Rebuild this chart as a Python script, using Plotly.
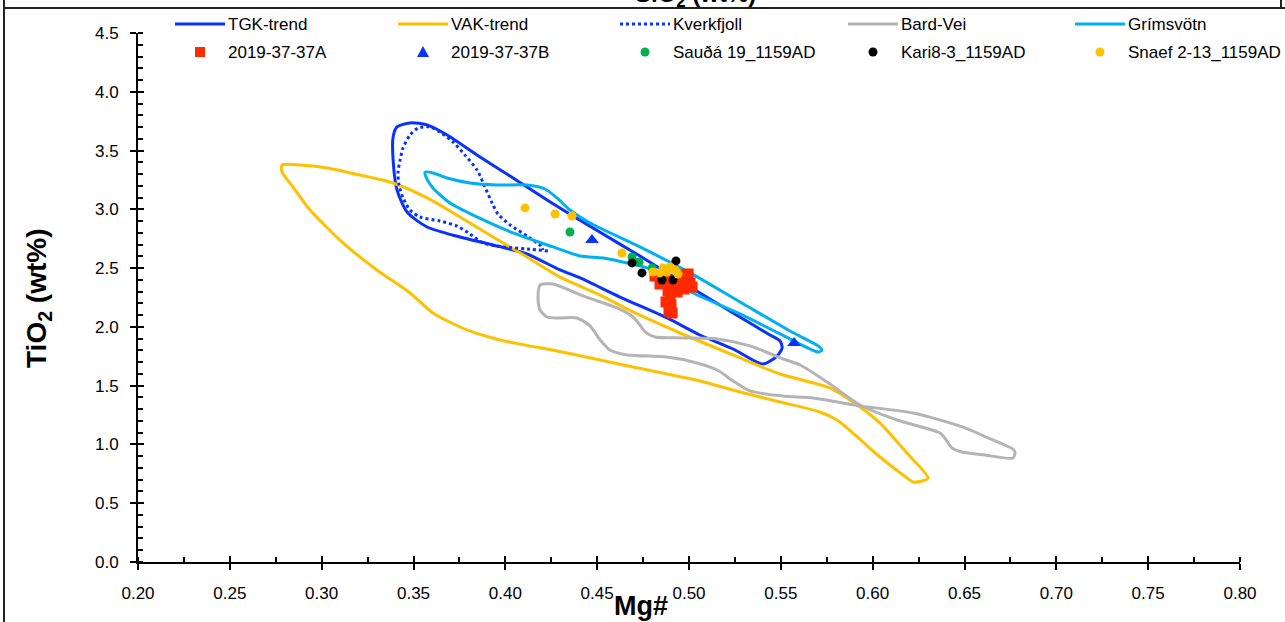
import plotly.graph_objects as go

# ---- trend envelopes (Mg#, TiO2) ----
tgk_x = [0.3389, 0.3410, 0.3481, 0.3574, 0.3683, 0.3862, 0.4042, 0.4227, 0.4477, 0.4733,
         0.5006, 0.5240, 0.5441, 0.5496, 0.5507, 0.5479, 0.5403, 0.5240, 0.5060, 0.4880,
         0.4624, 0.4407, 0.4298, 0.4118, 0.3933, 0.3753, 0.3574, 0.3465, 0.3410, 0.3389]
tgk_y = [3.615, 3.701, 3.735, 3.718, 3.632, 3.445, 3.267, 3.080, 2.841, 2.603,
         2.339, 2.118, 1.931, 1.880, 1.820, 1.752, 1.684, 1.812, 1.931, 2.076,
         2.254, 2.416, 2.484, 2.620, 2.697, 2.765, 2.850, 2.977, 3.165, 3.420]

vak_x = [0.2784, 0.2882, 0.3029, 0.3209, 0.3388, 0.3574, 0.3753, 0.3933, 0.4118, 0.4298,
         0.4516, 0.4695, 0.4951, 0.5240, 0.5496, 0.5768, 0.5931, 0.6040, 0.6187, 0.6302,
         0.6269, 0.6220, 0.6187, 0.6040, 0.5893, 0.5806, 0.5713, 0.5496, 0.5278, 0.5060,
         0.4695, 0.4336, 0.3971, 0.3791, 0.3606, 0.3481, 0.3301, 0.3116, 0.2937, 0.2844,
         0.2784]
vak_y = [3.377, 3.377, 3.352, 3.292, 3.224, 3.097, 2.935, 2.765, 2.595, 2.424,
         2.271, 2.127, 1.948, 1.761, 1.599, 1.480, 1.319, 1.182, 0.927, 0.715,
         0.689, 0.681, 0.715, 0.893, 1.097, 1.208, 1.276, 1.361, 1.446, 1.540,
         1.659, 1.778, 1.889, 1.974, 2.118, 2.288, 2.484, 2.714, 2.994, 3.190,
         3.318]

kverk_x = [0.4232, 0.4118, 0.3987, 0.3879, 0.3808, 0.3737, 0.3644, 0.3535, 0.3481, 0.3443,
           0.3421, 0.3416, 0.3427, 0.3443, 0.3481, 0.3525, 0.3590, 0.3644, 0.3715, 0.3780,
           0.3846, 0.3889, 0.3928, 0.3960, 0.4026, 0.4118, 0.4194, 0.4205]
kverk_y = [2.646, 2.663, 2.680, 2.714, 2.790, 2.858, 2.901, 2.935, 2.994, 3.097,
           3.207, 3.318, 3.420, 3.522, 3.632, 3.692, 3.701, 3.658, 3.573, 3.462,
           3.335, 3.190, 3.054, 2.960, 2.867, 2.773, 2.688, 2.654]

bard_x = [0.4189, 0.4260, 0.4423, 0.4608, 0.4695, 0.4733, 0.4761, 0.4815, 0.4968, 0.5153,
          0.5332, 0.5512, 0.5605, 0.5752, 0.5931, 0.6133, 0.6367, 0.6400, 0.6432, 0.6487,
          0.6612, 0.6764, 0.6775, 0.6764, 0.6655, 0.6492, 0.6220, 0.5931, 0.5675, 0.5512,
          0.5332, 0.5240, 0.5153, 0.5022, 0.4880, 0.4663, 0.4570, 0.4516, 0.4461, 0.4390,
          0.4298, 0.4227, 0.4189, 0.4178]
bard_y = [2.356, 2.365, 2.263, 2.161, 2.084, 2.016, 1.957, 1.914, 1.906, 1.897,
          1.838, 1.727, 1.676, 1.531, 1.336, 1.208, 1.097, 1.038, 0.970, 0.936,
          0.910, 0.885, 0.936, 0.961, 1.038, 1.148, 1.268, 1.327, 1.395, 1.412,
          1.455, 1.540, 1.633, 1.701, 1.744, 1.761, 1.803, 1.889, 2.008, 2.076,
          2.076, 2.084, 2.144, 2.254]

grim_x = [0.3563, 0.3606, 0.3683, 0.3808, 0.3955, 0.4118, 0.4216, 0.4281, 0.4352, 0.4461,
          0.4733, 0.5006, 0.5278, 0.5550, 0.5703, 0.5724, 0.5703, 0.5496, 0.5278, 0.5022,
          0.4788, 0.4663, 0.4532, 0.4407, 0.4260, 0.4042, 0.3846, 0.3699, 0.3606, 0.3568]
grim_y = [3.318, 3.309, 3.267, 3.224, 3.207, 3.207, 3.173, 3.097, 2.994, 2.884,
          2.680, 2.459, 2.212, 1.965, 1.838, 1.803, 1.786, 1.940, 2.110, 2.288,
          2.493, 2.544, 2.586, 2.603, 2.680, 2.799, 2.935, 3.054, 3.182, 3.275]

# ---- samples ----
s37a_x = [0.4815, 0.4842, 0.4886, 0.4929, 0.4973, 0.5006, 0.5017, 0.4973, 0.4935, 0.4886,
          0.4897, 0.4875, 0.4902, 0.4891, 0.4908, 0.4995, 0.4951]
s37a_y = [2.433, 2.365, 2.390, 2.373, 2.407, 2.373, 2.339, 2.322, 2.297, 2.305,
          2.254, 2.212, 2.186, 2.135, 2.118, 2.450, 2.441]

s37b_x = [0.4472, 0.5572]
s37b_y = [2.739, 1.863]

sauda_x = [0.4352, 0.4690, 0.4728, 0.4799]
sauda_y = [2.807, 2.595, 2.552, 2.501]

kari_x = [0.4690, 0.4744, 0.4929, 0.4853, 0.4913]
kari_y = [2.544, 2.459, 2.561, 2.399, 2.399]

snaef_x = [0.4107, 0.4271, 0.4363, 0.4635, 0.4804, 0.4859, 0.4897, 0.4924, 0.4880, 0.4842, 0.4940]
snaef_y = [3.012, 2.960, 2.943, 2.629, 2.467, 2.501, 2.510, 2.484, 2.467, 2.459, 2.450]

BLUE = "#0a32ff"
YELLOW = "#ffc000"
GREY = "#b4b4b4"
CYAN = "#00b0f0"
RED = "#ff2a00"
GREEN = "#00b050"

FONT = "Liberation Sans, Arial, sans-serif"


def ring(xs, ys, k):
    # close an envelope, starting on a straight stretch so the spline seam is hidden
    xs, ys = xs[k:] + xs[:k], ys[k:] + ys[:k]
    return xs + xs[:1], ys + ys[:1]


fig = go.Figure()

lines = [
    ("TGK-trend", *ring(tgk_x, tgk_y, 7), BLUE, "solid"),
    ("VAK-trend", *ring(vak_x, vak_y, 7), YELLOW, "solid"),
    ("Kverkfjoll", kverk_x, kverk_y, BLUE, "dot"),
    ("Bard-Vei", *ring(bard_x, bard_y, 9), GREY, "solid"),
    ("Grímsvötn", *ring(grim_x, grim_y, 11), CYAN, "solid"),
]
for name, xs, ys, col, dash in lines:
    fig.add_trace(go.Scatter(x=xs, y=ys, name=name, mode="lines",
                             line=dict(color=col, width=3, dash=dash, shape="spline", smoothing=0.7),
                             showlegend=False))

points = [
    ("2019-37-37A", s37a_x, s37a_y, RED, "square", 11),
    ("2019-37-37B", s37b_x, s37b_y, BLUE, "triangle-up", 12),
    ("Sauðá 19_1159AD", sauda_x, sauda_y, GREEN, "circle", 9),
    ("Kari8-3_1159AD", kari_x, kari_y, "black", "circle", 9),
    ("Snaef 2-13_1159AD", snaef_x, snaef_y, YELLOW, "circle", 9),
]
for name, xs, ys, col, sym, sz in points:
    fig.add_trace(go.Scatter(x=xs, y=ys, name=name, mode="markers",
                             marker=dict(color=col, symbol=sym, size=sz, line=dict(width=0)),
                             showlegend=False))

# dummy trace so the overlay axes (inner halves of major ticks) get drawn
fig.add_trace(go.Scatter(x=[None], y=[None], xaxis="x2", yaxis="y2", showlegend=False))

# plot area in pixels: x 138..1240, y 33..562
L, R, T, B = 138, 1240, 33, 562
W, H = 1285, 622


def px(p):
    return (p - L) / (R - L)


def py(p):
    return (B - p) / (B - T)


shapes = []
annotations = []

# hand-built legend (two rows, five columns)
cols = [175, 398, 620, 848, 1075]
for (name, xs, ys, col, dash), c in zip(lines, cols):
    shapes.append(dict(type="line", xref="paper", yref="paper",
                       x0=px(c), x1=px(c + 50), y0=py(24), y1=py(24),
                       line=dict(color=col, width=3, dash=dash)))
    annotations.append(dict(text=name, xref="paper", yref="paper", x=px(c + 51), y=py(24),
                            xanchor="left", yanchor="middle", showarrow=False,
                            font=dict(size=17, color="black", family=FONT)))
for (name, xs, ys, col, sym, sz), c in zip(points, cols):
    cx, cy = c + 25, 52
    if sym == "square":
        shapes.append(dict(type="rect", xref="paper", yref="paper", x0=px(cx - 5), x1=px(cx + 5),
                           y0=py(cy + 5), y1=py(cy - 5), fillcolor=col, line=dict(width=0)))
    elif sym == "triangle-up":
        shapes.append(dict(type="path", xref="paper", yref="paper",
                           path=f"M {px(cx - 6)} {py(cy + 5)} L {px(cx + 6)} {py(cy + 5)} L {px(cx)} {py(cy - 6)} Z",
                           fillcolor=col, line=dict(width=0)))
    else:
        shapes.append(dict(type="circle", xref="paper", yref="paper", x0=px(cx - 4.5), x1=px(cx + 4.5),
                           y0=py(cy + 4.5), y1=py(cy - 4.5), fillcolor=col, line=dict(width=0)))
    annotations.append(dict(text=name, xref="paper", yref="paper", x=px(c + 51), y=py(cy),
                            xanchor="left", yanchor="middle", showarrow=False,
                            font=dict(size=17, color="black", family=FONT)))

# page frame left over from the figure above
shapes.append(dict(type="line", xref="paper", yref="paper", x0=px(4), x1=px(W), y0=py(8), y1=py(8),
                   line=dict(color="#222", width=2)))
shapes.append(dict(type="line", xref="paper", yref="paper", x0=px(4), x1=px(4), y0=py(0), y1=py(W),
                   line=dict(color="#222", width=2)))
shapes.append(dict(type="line", xref="paper", yref="paper", x0=px(1281), x1=px(1281), y0=py(0), y1=py(8),
                   line=dict(color="#222", width=2)))

annotations.append(dict(text="<b>SiO<sub>2</sub> (wt%)</b>", xref="paper", yref="paper",
                        x=px(695), y=py(13), xanchor="center", yanchor="bottom", showarrow=False,
                        font=dict(size=24, color="black", family=FONT)))
annotations.append(dict(text="<b>Mg#</b>", xref="paper", yref="paper", x=px(641), y=py(606),
                        xanchor="center", yanchor="middle", showarrow=False,
                        font=dict(size=27, color="black", family=FONT)))
annotations.append(dict(text="<b>TiO<sub>2</sub> (wt%)</b>", xref="paper", yref="paper", x=px(38), y=py(298),
                        xanchor="center", yanchor="middle", showarrow=False, textangle=-90,
                        font=dict(size=28, color="black", family=FONT)))

fig.update_layout(
    width=W, height=H,
    margin=dict(l=L, r=W - R, t=T, b=H - B),
    plot_bgcolor="white", paper_bgcolor="white",
    showlegend=False,
    font=dict(family=FONT, color="black"),
    xaxis=dict(range=[0.2, 0.8], dtick=0.05, tick0=0.2, tickformat=".2f",
               showgrid=False, zeroline=False, showline=True, linecolor="black", linewidth=2,
               ticks="outside", ticklen=6, tickwidth=2, tickcolor="black",
               tickfont=dict(size=17, color="black"), ticklabelstandoff=9,
               minor=dict(dtick=0.025, ticks="inside", ticklen=5, tickwidth=1.5, tickcolor="black")),
    yaxis=dict(range=[0, 4.5], dtick=0.5, tick0=0, tickformat=".1f",
               showgrid=False, zeroline=False, showline=True, linecolor="black", linewidth=2,
               ticks="outside", ticklen=6, tickwidth=2, tickcolor="black",
               tickfont=dict(size=17, color="black"), ticklabelstandoff=8,
               minor=dict(dtick=0.1, ticks="inside", ticklen=5, tickwidth=1.5, tickcolor="black")),
    xaxis2=dict(overlaying="x", anchor="y", range=[0.2, 0.8], dtick=0.05, tick0=0.2,
                showgrid=False, zeroline=False, showline=False, showticklabels=False,
                ticks="inside", ticklen=6, tickwidth=2, tickcolor="black"),
    yaxis2=dict(overlaying="y", anchor="x", range=[0, 4.5], dtick=0.5, tick0=0,
                showgrid=False, zeroline=False, showline=False, showticklabels=False,
                ticks="inside", ticklen=6, tickwidth=2, tickcolor="black"),
    shapes=shapes,
    annotations=annotations,
)

# drop the browser's default 8px body margin so the figure sits at the page corner
fig.write_html("out.html", config={"displayModeBar": False},
               post_script="document.body.style.margin='0';")
